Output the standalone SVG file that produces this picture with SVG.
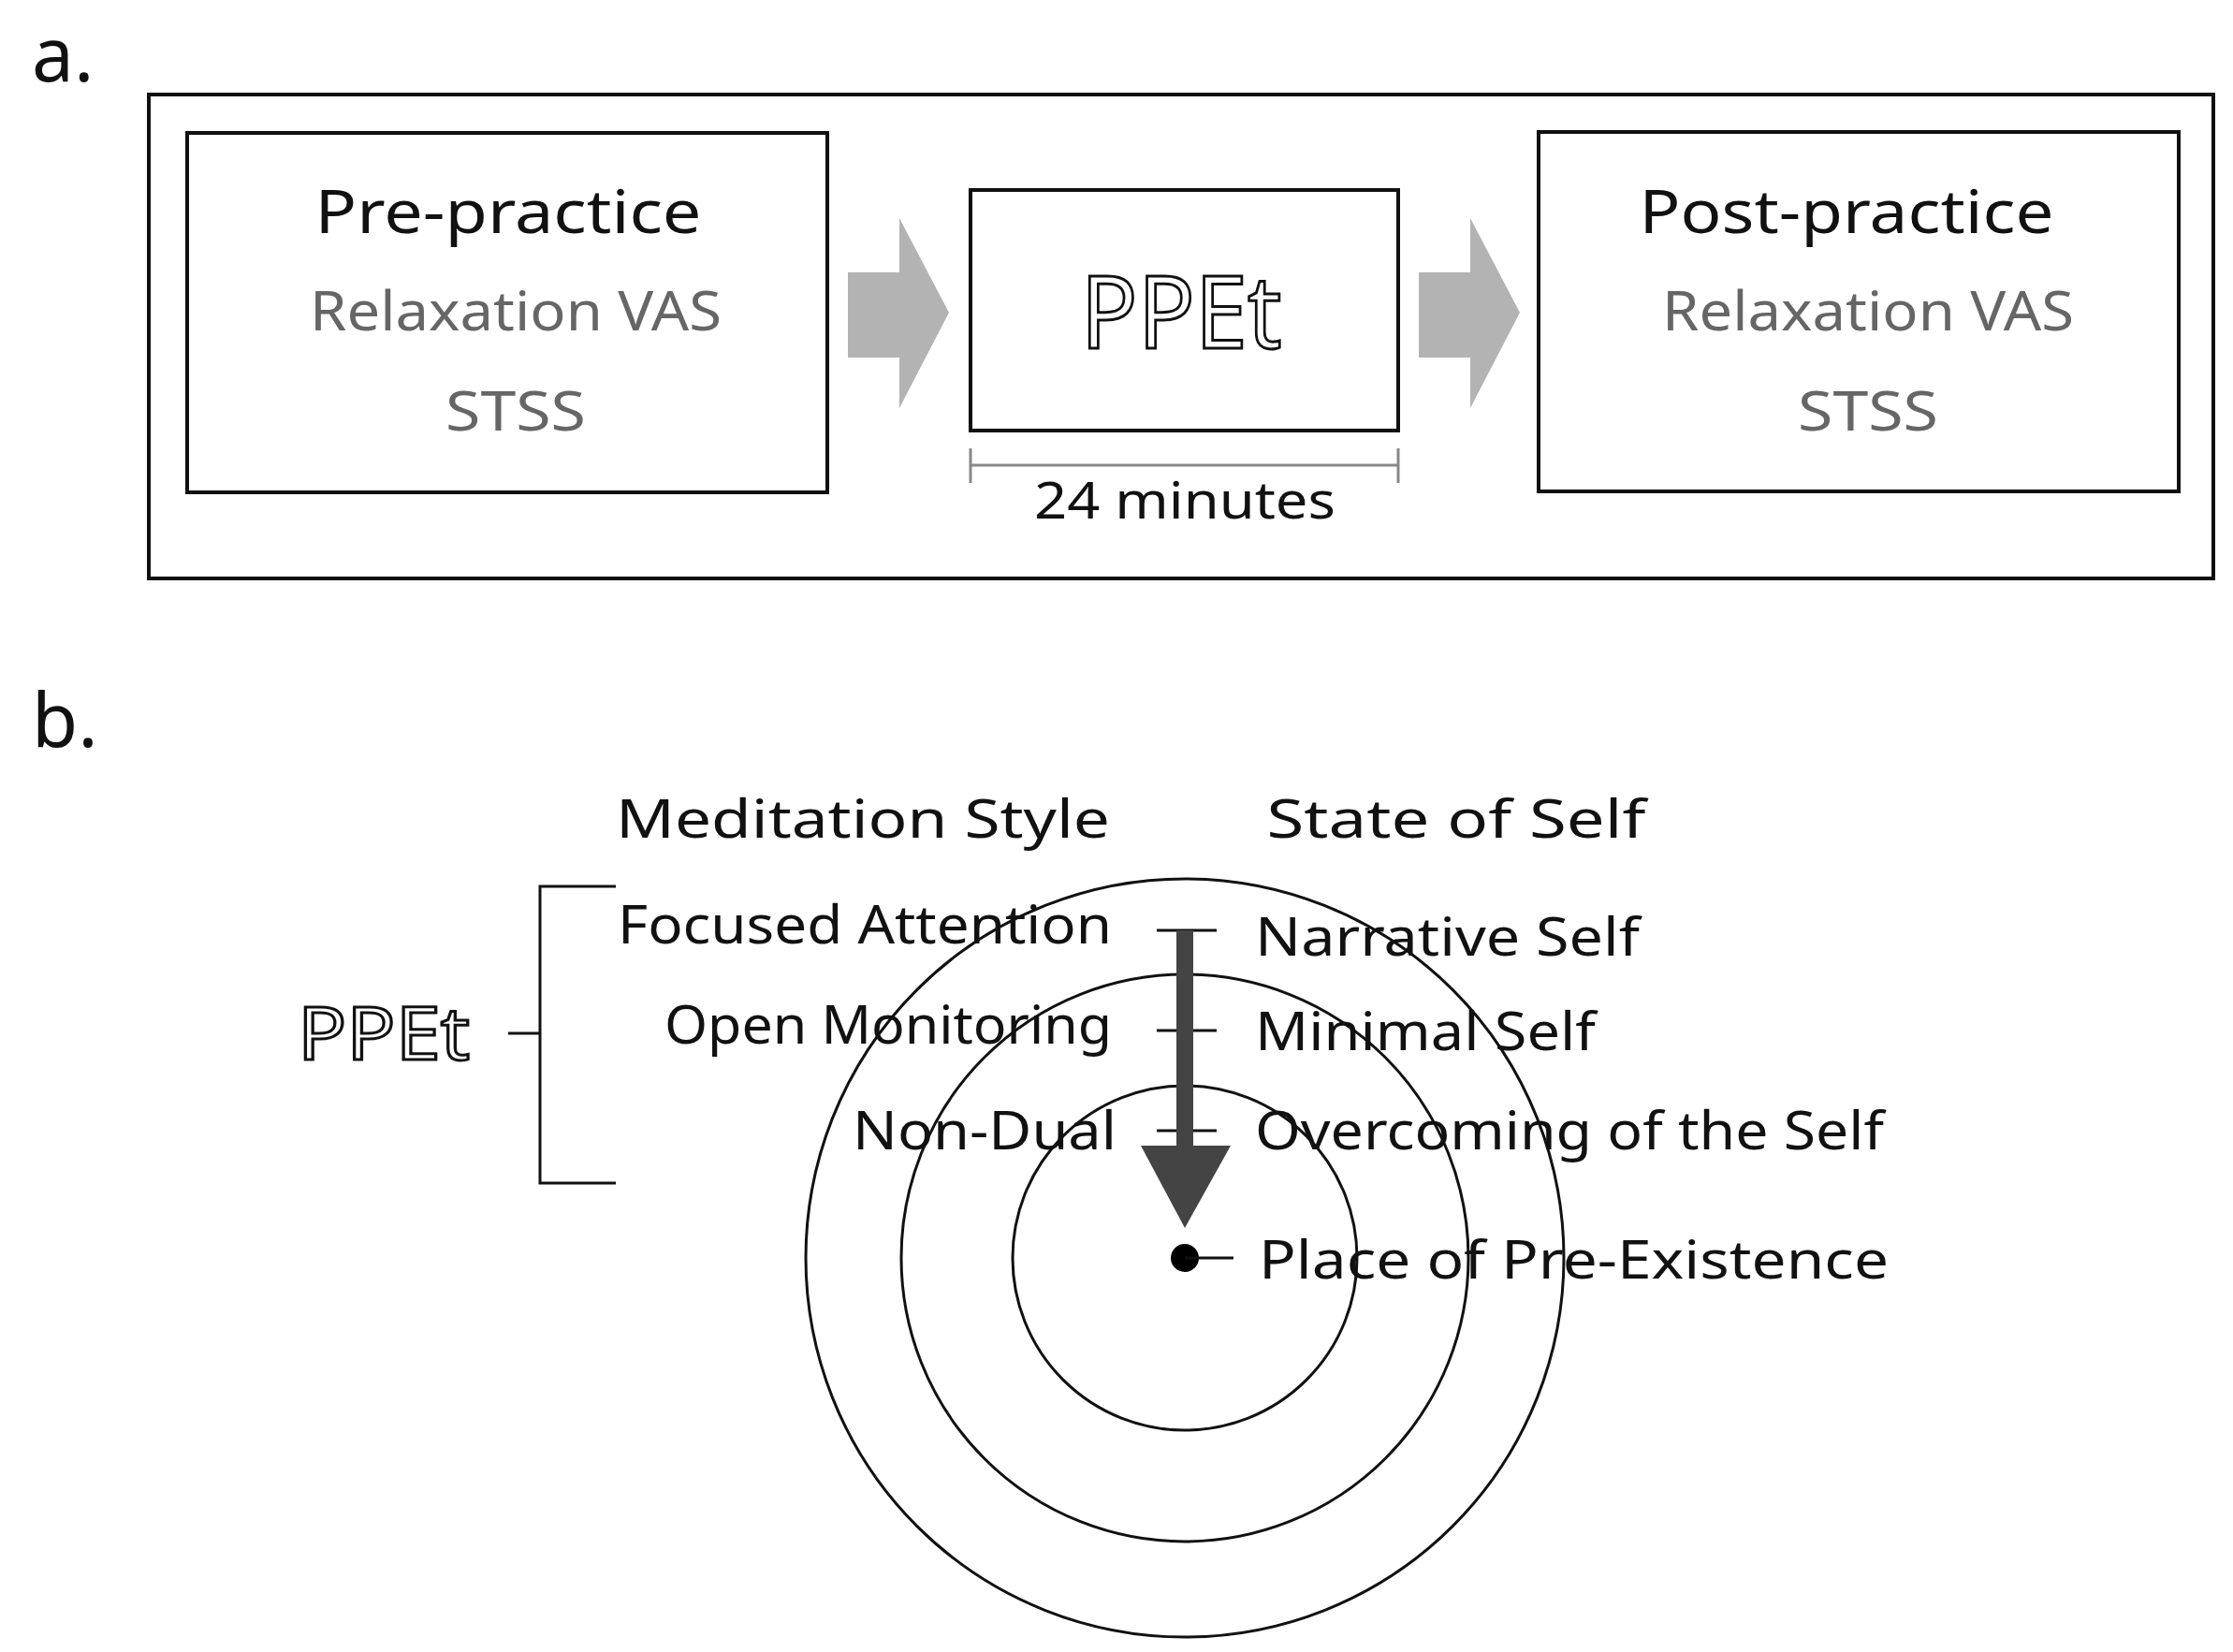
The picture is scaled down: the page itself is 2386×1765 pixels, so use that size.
<svg xmlns="http://www.w3.org/2000/svg" width="2386" height="1765" viewBox="0 0 2386 1765">
<style>
text{font-family:"Noto Sans","DejaVu Sans",sans-serif;}
.box{fill:#fff;stroke:#111;stroke-width:4}
.h{font-size:64px;fill:#111;text-anchor:middle}
.g{font-size:58px;fill:#666;text-anchor:middle}
.l{font-size:56px;fill:#111}
.c{fill:none;stroke:#111;stroke-width:3}
.blk{stroke:#111;stroke-width:3;fill:none}
</style>
<rect width="2386" height="1765" fill="#fff"/>
<text x="34" y="87" style="font-size:80px" fill="#111">a.</text>
<text x="34" y="798" style="font-size:80px" fill="#111">b.</text>
<rect class="box" x="159" y="101" width="2206" height="517"/>
<g id="pre"><rect class="box" x="200" y="142" width="684" height="384"/>
<text class="h" x="543" y="249" textLength="413" lengthAdjust="spacingAndGlyphs">Pre-practice</text>
<text class="g" x="551" y="353" textLength="440" lengthAdjust="spacingAndGlyphs">Relaxation VAS</text>
<text class="g" x="551" y="460" textLength="150" lengthAdjust="spacingAndGlyphs">STSS</text></g>
<g id="ppet"><rect class="box" x="1037" y="203" width="457" height="257"/>
<text x="1262" y="372" text-anchor="middle" style="font-size:108px" fill="#fff" stroke="#111" stroke-width="3" textLength="215" lengthAdjust="spacingAndGlyphs">PPEt</text></g>
<g id="post"><rect class="box" x="1644" y="141" width="684" height="384"/>
<text class="h" x="1973" y="249" textLength="443" lengthAdjust="spacingAndGlyphs">Post-practice</text>
<text class="g" x="1996" y="353" textLength="440" lengthAdjust="spacingAndGlyphs">Relaxation VAS</text>
<text class="g" x="1996" y="460" textLength="150" lengthAdjust="spacingAndGlyphs">STSS</text></g>
<g id="connectors">
<polygon points="906,291 961,291 961,233 1014,334 961,436 961,382 906,382" fill="#b3b3b3"/>
<polygon points="1516,291 1571,291 1571,233 1624,334 1571,436 1571,382 1516,382" fill="#b3b3b3"/>
<path d="M1037,479V516M1494,479V516M1037,497H1494" stroke="#888" stroke-width="3" fill="none"/>
</g>
<text x="1266" y="554" text-anchor="middle" style="font-size:54px" fill="#111" textLength="322" lengthAdjust="spacingAndGlyphs">24 minutes</text>
<g id="circles">
<circle class="c" cx="1266" cy="1344" r="405"/>
<circle class="c" cx="1266" cy="1344" r="303"/>
<circle class="c" cx="1266" cy="1344" r="184"/>
</g>
<text class="l" x="922" y="895" text-anchor="middle" textLength="528" lengthAdjust="spacingAndGlyphs">Meditation Style</text>
<text class="l" x="1556" y="895" text-anchor="middle" textLength="405" lengthAdjust="spacingAndGlyphs">State of Self</text>
<text class="l" x="1188" y="1008" text-anchor="end" textLength="528" lengthAdjust="spacingAndGlyphs">Focused Attention</text>
<text class="l" x="1188" y="1115" text-anchor="end" textLength="478" lengthAdjust="spacingAndGlyphs">Open Monitoring</text>
<text class="l" x="1193" y="1228" text-anchor="end" textLength="282" lengthAdjust="spacingAndGlyphs">Non-Dual</text>
<text class="l" x="1341" y="1021" textLength="411" lengthAdjust="spacingAndGlyphs">Narrative Self</text>
<text class="l" x="1341" y="1122" textLength="364" lengthAdjust="spacingAndGlyphs">Minimal Self</text>
<text class="l" x="1341" y="1228" textLength="672" lengthAdjust="spacingAndGlyphs">Overcoming of the Self</text>
<text class="l" x="1345" y="1366" textLength="673" lengthAdjust="spacingAndGlyphs">Place of Pre-Existence</text>
<g id="marks">
<path class="blk" d="M1236,994H1300M1236,1101H1300M1236,1208H1300"/>
<polygon points="1257,994 1275,994 1275,1224 1315,1224 1266,1312 1219,1224 1257,1224" fill="#444"/>
<circle cx="1266" cy="1344" r="15" fill="#000"/>
<path class="blk" d="M1266,1344H1318"/>
<path class="blk" d="M658,947H577V1264H658M543,1104H577"/>
</g>
<text x="410" y="1132" text-anchor="middle" style="font-size:78px" fill="#fff" stroke="#111" stroke-width="3" textLength="184" lengthAdjust="spacingAndGlyphs">PPEt</text>
</svg>
